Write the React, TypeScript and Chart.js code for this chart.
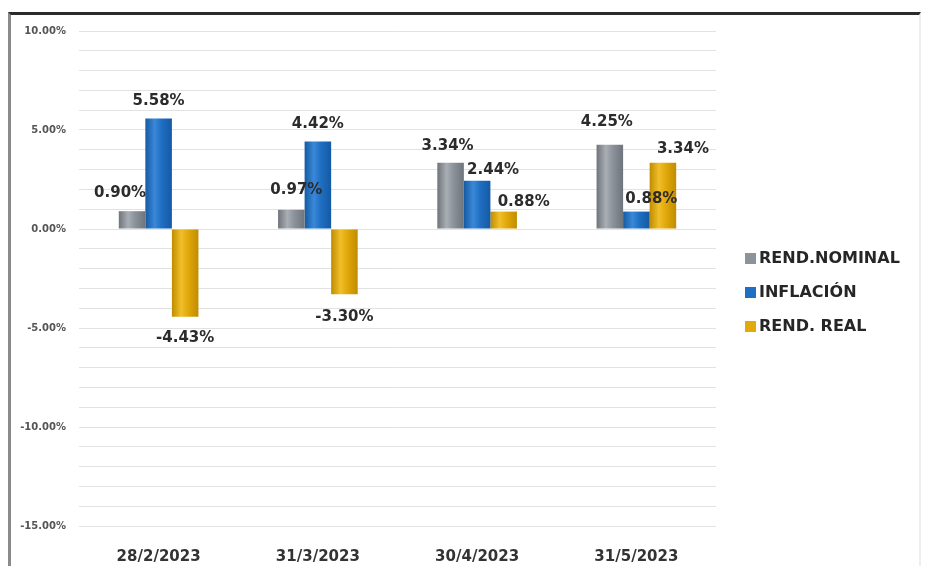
import React, { useEffect, useRef } from "react";
import { Chart, registerables } from "chart.js";

Chart.register(...registerables);

const categories = ["28/2/2023", "31/3/2023", "30/4/2023", "31/5/2023"];
const seriesNames = ["REND.NOMINAL", "INFLACIÓN", "REND. REAL"];
const rendNominal = [0.9, 0.97, 3.34, 4.25];
const inflacion = [5.58, 4.42, 2.44, 0.88];
const rendReal = [-4.43, -3.3, 0.88, 3.34];
const yMin = -15;
const yMax = 10;

// layout: label offsets (px) from bar end, per series / category
const labelOffsets = [
  [[-12, -18], [5, -20], [-3, -17], [-3, -23]],
  [[0, -17], [0, -17], [16, -11], [15, -12]],
  [[0, 21], [0, 23], [20, -9], [20, -14]],
];
const colors = ["#8d939b", "#1f6fc3", "#e2a90b"];
const edgeColors = ["#6f747b", "#155aa3", "#c08c00"];
const lightColors = ["#a9aeb5", "#3a88d8", "#f0bf2a"];
const FONT = "'DejaVu Sans', sans-serif";

const gradientPlugin = {
  id: "barGradient",
  beforeDatasetsDraw(chart: any) {
    const ctx = chart.ctx;
    chart.data.datasets.forEach((_ds: any, i: number) => {
      const meta = chart.getDatasetMeta(i);
      meta.data.forEach((el: any) => {
        const w = el.width;
        const g = ctx.createLinearGradient(el.x - w / 2, 0, el.x + w / 2, 0);
        g.addColorStop(0, edgeColors[i]);
        g.addColorStop(0.35, lightColors[i]);
        g.addColorStop(0.6, colors[i]);
        g.addColorStop(1, edgeColors[i]);
        el.options.backgroundColor = g;
      });
    });
  },
};

const labelPlugin = {
  id: "valueLabels",
  afterDatasetsDraw(chart: any) {
    const ctx = chart.ctx;
    ctx.save();
    ctx.font = `bold 15px ${FONT}`;
    ctx.fillStyle = "#2b2b2b";
    ctx.textAlign = "center";
    ctx.textBaseline = "middle";
    chart.data.datasets.forEach((ds: any, i: number) => {
      const meta = chart.getDatasetMeta(i);
      meta.data.forEach((el: any, j: number) => {
        const v = ds.data[j];
        const [dx, dy] = labelOffsets[i][j];
        ctx.fillText(v.toFixed(2) + "%", el.x + dx, el.y + dy);
      });
    });
    ctx.restore();
  },
};

const legendPlugin = {
  id: "customLegend",
  afterDraw(chart: any) {
    const ctx = chart.ctx;
    const ys = [258, 292, 326];
    ctx.save();
    ctx.font = `bold 16px ${FONT}`;
    ctx.textAlign = "left";
    ctx.textBaseline = "middle";
    chart.data.datasets.forEach((ds: any, i: number) => {
      const y = ys[i];
      ctx.fillStyle = colors[i];
      ctx.fillRect(745, y - 5, 11, 11);
      ctx.fillStyle = "#262626";
      ctx.fillText(ds.label, 759, y + 1);
    });
    ctx.restore();
  },
};

export default function App() {
  const ref = useRef<HTMLCanvasElement>(null);
  useEffect(() => {
    if (!ref.current) return;
    const data = [rendNominal, inflacion, rendReal];
    const chart = new Chart(ref.current, {
      type: "bar",
      data: {
        labels: categories,
        datasets: seriesNames.map((name, i) => ({
          label: name,
          data: data[i],
          backgroundColor: () => colors[i],
          borderWidth: 0,
          categoryPercentage: 0.5,
          barPercentage: 1,
        })),
      },
      options: {
        responsive: false,
        animation: false,
        devicePixelRatio: 1,
        layout: { padding: { left: 0, top: 31, right: 212, bottom: 0 } },
        plugins: { legend: { display: false }, tooltip: { enabled: false } },
        scales: {
          x: {
            grid: { display: false },
            border: { display: false },
            ticks: {
              color: "#333333",
              font: { family: FONT, size: 15, weight: "bold" },
              padding: 14,
            },
            afterFit: (s: any) => {
              s.height = 40;
            },
          },
          y: {
            min: yMin,
            max: yMax,
            border: { display: false },
            grid: { color: "#e2e2e2", lineWidth: 1, drawTicks: false },
            ticks: {
              stepSize: 1,
              autoSkip: false,
              padding: 13,
              color: "#555555",
              font: { family: FONT, size: 10, weight: "bold" },
              callback: (v: any) => (Number(v) % 5 === 0 ? Number(v).toFixed(2) + "%" : ""),
            },
            afterFit: (s: any) => {
              s.width = 79;
            },
          },
        },
      },
      plugins: [gradientPlugin, labelPlugin, legendPlugin],
    });
    return () => chart.destroy();
  }, []);

  return (
    <div style={{ position: "fixed", left: 0, top: 0, width: 928, height: 566, background: "#fff", overflow: "hidden" }}>
      <div
        style={{
          position: "absolute",
          left: 8,
          top: 12,
          width: 908,
          height: 600,
          borderTop: "3px solid #2b2b2b",
          borderLeft: "3px solid #8a8a8a",
          borderRight: "2px solid #eeeeee",
        }}
      />
      <canvas ref={ref} width={928} height={566} style={{ position: "absolute", left: 0, top: 0 }} />
    </div>
  );
}
